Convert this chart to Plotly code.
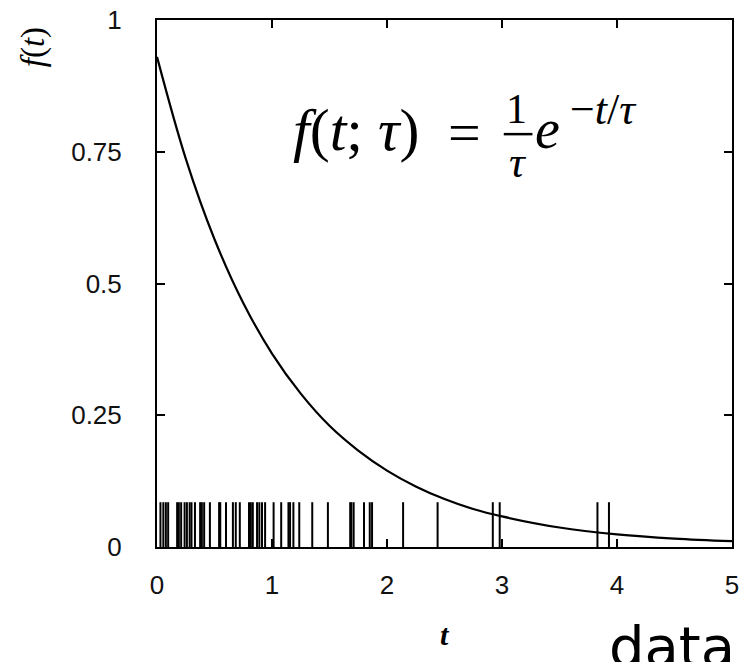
import plotly.graph_objects as go

# ---- data ----
curve_t = [0, 0.25, 0.5, 0.75, 1.0, 1.25, 1.5, 1.75, 2.0, 2.25, 2.5, 2.75, 3.0, 3.5, 4.0, 4.5, 5.0]
curve_f = [0.930, 0.737, 0.584, 0.463, 0.367, 0.291, 0.230, 0.183, 0.145, 0.115, 0.091,
           0.072, 0.058, 0.037, 0.024, 0.016, 0.011]

rug_t = [0.03, 0.055, 0.077, 0.097, 0.175, 0.19, 0.21, 0.24, 0.26, 0.284, 0.30, 0.33,
         0.375, 0.39, 0.41, 0.46, 0.54, 0.55, 0.60, 0.66, 0.685, 0.72, 0.80, 0.816,
         0.833, 0.87, 0.89, 0.913, 0.94, 1.014, 1.08, 1.143, 1.157, 1.186, 1.237,
         1.35, 1.486, 1.68, 1.69, 1.71, 1.80, 1.85, 1.87, 2.14, 2.44, 2.92, 2.98,
         3.83, 3.93]
rug_height = 0.085

x_ticks = [0, 1, 2, 3, 4, 5]
x_tick_labels = ["0", "1", "2", "3", "4", "5"]
y_ticks = [0, 0.25, 0.5, 0.75, 1]
y_tick_labels = ["0", "0.25", "0.5", "0.75", "1"]

# ---- layout geometry (pixels) ----
W, H = 744, 662
L, R, T, B = 157, 739, 16, 547


def px(x):
    return (x - L) / (R - L)


def py(y):
    return (B - y) / (B - T)


rug_x, rug_y = [], []
for t in rug_t:
    rug_x += [t, t, None]
    rug_y += [0, rug_height, None]

fig = go.Figure()
fig.add_trace(go.Scatter(x=rug_x, y=rug_y, mode="lines",
                         line=dict(color="black", width=2), hoverinfo="skip"))
fig.add_trace(go.Scatter(x=curve_t, y=curve_f, mode="lines", line_shape="spline",
                         line=dict(color="black", width=2.2)))

tickfont = dict(family="Liberation Sans, Arial, sans-serif", size=26, color="#111")
axis_common = dict(showline=True, linecolor="black", linewidth=2, mirror="ticks",
                   ticks="inside", ticklen=8, tickwidth=1.5, tickcolor="black",
                   showgrid=False, zeroline=False, tickfont=tickfont,
                   ticklabeloverflow="allow")

fig.update_layout(
    width=W, height=H,
    margin=dict(l=L, r=W - R, t=T, b=H - B, pad=0),
    paper_bgcolor="white", plot_bgcolor="white",
    showlegend=False,
    xaxis=dict(range=[0, 5], tickvals=x_ticks, ticktext=x_tick_labels,
               ticklabelstandoff=14, **axis_common),
    yaxis=dict(range=[0, 1], tickvals=y_ticks, ticktext=y_tick_labels,
               ticklabelstandoff=28, **axis_common),
)

serif = "Liberation Serif, Times New Roman, serif"
ann = []


def add_text(text, x, y, size, **kw):
    d = dict(text=text, x=px(x), y=py(y), xref="paper", yref="paper",
             showarrow=False, xanchor="center", yanchor="middle",
             font=dict(family=serif, size=size, color="black"))
    d.update(kw)
    ann.append(d)


# axis titles
add_text("<b><i>t</i></b>", 448, 635, 30)
add_text("<i>f</i>(<i>t</i>)", 32, 44, 33, textangle=-90)

# formula f(t;τ) = (1/τ) e^{-t/τ}
add_text("<i>f</i>(<i>t</i>; <i>τ</i>)", 358, 127, 60)
add_text("=", 468, 129, 58)
add_text("1", 521, 106, 42)
add_text("<i>τ</i>", 522, 160, 44)
add_text("<i>e</i>", 552, 126, 56)
add_text("−<i>t</i>/<i>τ</i>", 609, 106, 44)

# handwritten-looking note at bottom right
add_text("data", 612, 647, 56, xanchor="left",
         font=dict(family="DejaVu Sans, sans-serif", size=56, color="black"))

fig.update_layout(annotations=ann)
fig.add_shape(type="line", xref="paper", yref="paper",
              x0=px(508), x1=px(537), y0=py(131), y1=py(131),
              line=dict(color="black", width=2.5))

fig.write_html("out.html")
